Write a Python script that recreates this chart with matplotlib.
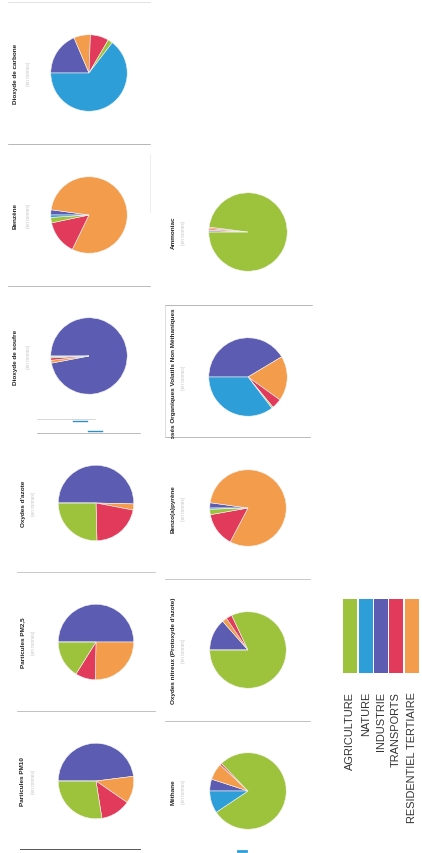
import matplotlib
matplotlib.use("Agg")
import matplotlib.pyplot as plt
from matplotlib.lines import Line2D
from matplotlib.patches import Rectangle
from matplotlib.transforms import Bbox, TransformedBbox

# Secteurs d'émission (ordre de la légende)
secteurs = ["AGRICULTURE", "NATURE", "INDUSTRIE", "TRANSPORTS", "RESIDENTIEL TERTIAIRE"]
couleurs = ["#9dc23c", "#2e9ed8", "#5b5cb2", "#e23a5a", "#f39c4c"]

# Parts des émissions (%), dans l'ordre des secteurs ci-dessus
dioxyde_carbone = [2.0, 64.6, 18.6, 7.8, 7.0]
benzene = [2.3, 1.0, 2.2, 14.5, 80.0]
dioxyde_soufre = [0.5, 0.3, 97.0, 1.0, 1.2]
oxydes_azote = [25.4, 0.0, 50.4, 21.6, 2.6]
pm25 = [16.1, 0.0, 50.0, 8.6, 25.3]
pm10 = [27.5, 0.0, 48.0, 12.9, 11.6]
ammoniac = [98.0, 0.0, 0.7, 0.5, 0.8]
covnm = [0.6, 35.4, 41.4, 4.1, 18.5]
benzo_a_pyrene = [2.3, 0.5, 2.2, 14.5, 80.5]
oxydes_nitreux = [82.0, 0.0, 13.5, 2.5, 2.0]
methane = [77.8, 9.4, 5.0, 0.8, 7.0]

# ordre de tracé des secteurs dans les camemberts
ordre = [2, 4, 3, 0, 1]

W, H = 422, 854
fig = plt.figure(figsize=(W / 100, H / 100), dpi=100)
fig.patch.set_facecolor("white")
police = ["Liberation Sans", "DejaVu Sans"]


def fx(x):
    return x / W


def fy(y):
    return 1 - y / H


def camembert(valeurs, cx, cy, r, titre, tx, sx, fin_titre=None, clip=None):
    ax = fig.add_axes([fx(cx - r), fy(cy + r), 2 * r / W, 2 * r / H])
    ax.pie([valeurs[i] for i in ordre], colors=[couleurs[i] for i in ordre],
           startangle=180, counterclock=False, radius=1,
           wedgeprops=dict(edgecolor="#f4f4f4", linewidth=0.4))
    ax.set_xlim(-1.02, 1.02)
    ax.set_ylim(-1.02, 1.02)
    ax.set_aspect("equal")
    ax.axis("off")
    if fin_titre is None:
        t = fig.text(fx(tx), fy(cy), titre, rotation=90, ha="center", va="center",
                     fontsize=4.6, fontweight="bold", color="#222222", family=police)
    else:
        t = fig.text(fx(tx), fy(fin_titre), titre, rotation=90, rotation_mode="anchor",
                     ha="right", va="center", fontsize=4.6, fontweight="bold",
                     color="#222222", family=police)
    if clip is not None:
        t.set_clip_box(TransformedBbox(Bbox.from_extents(fx(tx - 10), fy(clip[1]),
                                                         fx(tx + 10), fy(clip[0])),
                                       fig.transFigure))
        t.set_clip_on(True)
    fig.text(fx(sx), fy(cy), "(en tonnes)", rotation=90, ha="center", va="center",
             fontsize=3.4, color="#c4c4c4", family=police)


camembert(dioxyde_carbone, 89, 74, 39, "Dioxyde de carbone", 15, 28)
camembert(benzene, 89, 216, 39, "Benzène", 15, 28)
camembert(dioxyde_soufre, 89, 357, 39, "Dioxyde de soufre", 15, 28)
camembert(oxydes_azote, 96, 504, 38.5, "Oxydes d'azote", 23, 34)
camembert(pm25, 96, 643, 38.5, "Particules PM2,5", 23, 34)
camembert(pm10, 96, 782, 38.5, "Particules PM10", 23, 34)
camembert(ammoniac, 248, 233, 40, "Ammoniac", 173, 183)
camembert(covnm, 248, 378, 40, "Composés Organiques Volatils Non Méthaniques", 173, 183,
          fin_titre=308, clip=(300, 440))
camembert(benzo_a_pyrene, 248, 509, 39, "Benzo(a)pyrène", 173, 183)
camembert(oxydes_nitreux, 248, 651, 39, "Oxydes nitreux (Protoxyde d'azote)", 173, 183)
camembert(methane, 248, 792, 39, "Méthane", 173, 183)


def trait(x0, x1, y0, y1, color="#b5b5b5", lw=0.5):
    fig.add_artist(Line2D([fx(x0), fx(x1)], [fy(y0), fy(y1)],
                          transform=fig.transFigure, color=color, lw=lw))


# séparateurs entre les graphiques
trait(8, 150, 3, 3, "#d8d8d8")
trait(8, 150, 145, 145, "#9a9a9a")
trait(8, 150, 287, 287, "#a0a0a0")
trait(17, 155, 573, 573, "#b0b0b0")
trait(17, 155, 712, 712, "#a8a8a8")
trait(20, 140, 850, 850, "#555555", 0.7)
trait(150, 150, 155, 213, "#e6e6e6")
trait(165, 312, 306, 306, "#9a9a9a")
trait(165, 310, 438, 438, "#a0a0a0")
trait(165, 165, 306, 438, "#d0d0d0")
trait(165, 310, 580, 580, "#b0b0b0")
trait(165, 310, 722, 722, "#a8a8a8")
trait(37, 95, 420, 420, "#c8c8c8")
trait(37, 140, 434, 434, "#a0a0a0")
trait(73, 87, 422, 422, "#2e8fc8", 1.0)
trait(88, 102, 432, 432, "#2e8fc8", 1.0)
trait(238, 246, 852, 852, "#2e9ed8", 2.0)

# légende
bandes_x = [343, 359, 374, 389, 405]
for x0, nom, c in zip(bandes_x, secteurs, couleurs):
    fig.add_artist(Rectangle((fx(x0), fy(674)), 14 / W, 74 / H,
                             transform=fig.transFigure, facecolor=c, edgecolor="none"))
    fig.text(fx(x0 + 7), fy(692), nom, rotation=90, rotation_mode="anchor",
             ha="right", va="center", fontsize=7.9, color="#333333", family=police)

fig.savefig("out.png", dpi=100)
